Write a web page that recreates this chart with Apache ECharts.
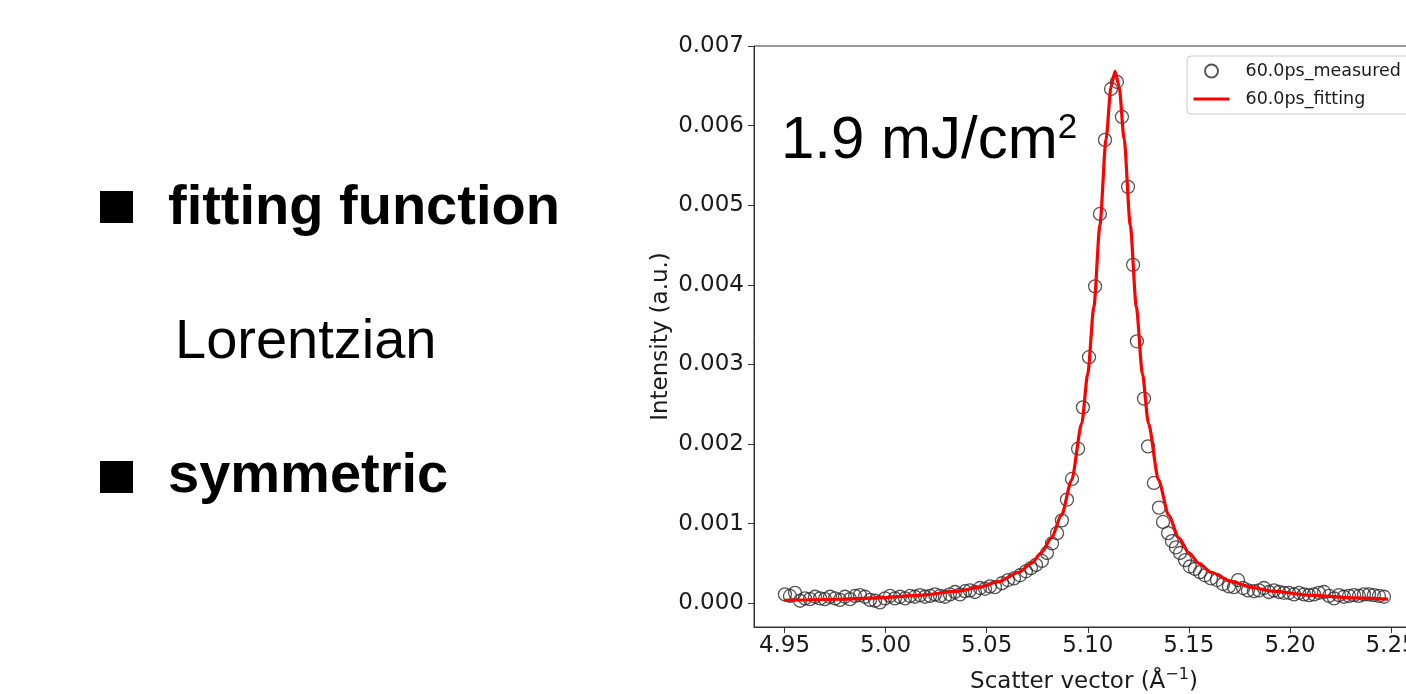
<!DOCTYPE html>
<html>
<head>
<meta charset="utf-8">
<title>60.0ps Lorentzian fit</title>
<script src="https://cdn.jsdelivr.net/npm/echarts@6/dist/echarts.min.js"></script>
<style>
  html, body { margin: 0; padding: 0; background: #fff; }
  #chart { width: 1406px; height: 694px; }
</style>
</head>
<body>
<div id="chart"></div>
<script>
// Measured intensity at 60.0 ps (scatter vector in 1/Å, intensity in a.u.)
const measuredX = [
  4.9502, 4.9527, 4.9552, 4.9577, 4.9601, 4.9626, 4.9651, 4.9676, 4.9700, 4.9725,
  4.9750, 4.9774, 4.9799, 4.9824, 4.9849, 4.9873, 4.9898, 4.9923, 4.9948, 4.9972,
  4.9997, 5.0022, 5.0046, 5.0071, 5.0096, 5.0121, 5.0145, 5.0170, 5.0195, 5.0220,
  5.0244, 5.0269, 5.0294, 5.0318, 5.0343, 5.0368, 5.0393, 5.0417, 5.0442, 5.0467,
  5.0492, 5.0516, 5.0541, 5.0576, 5.0605, 5.0635, 5.0665, 5.0694, 5.0719, 5.0744,
  5.0773, 5.0798, 5.0823, 5.0848, 5.0872, 5.0897, 5.0922, 5.0952, 5.0976, 5.1006,
  5.1036, 5.1060, 5.1085, 5.1115, 5.1144, 5.1169, 5.1199, 5.1224, 5.1243, 5.1278,
  5.1298, 5.1327, 5.1352, 5.1372, 5.1397, 5.1416, 5.1436, 5.1456, 5.1481, 5.1505,
  5.1530, 5.1555, 5.1580, 5.1609, 5.1639, 5.1669, 5.1698, 5.1723, 5.1743, 5.1768,
  5.1792, 5.1822, 5.1847, 5.1871, 5.1896, 5.1921, 5.1946, 5.1970, 5.1995, 5.2020,
  5.2045, 5.2069, 5.2094, 5.2119, 5.2143, 5.2168, 5.2193, 5.2218, 5.2242, 5.2267,
  5.2292, 5.2317, 5.2341, 5.2366, 5.2391, 5.2415, 5.2440, 5.2465
];
const measuredY = [
  0.00011, 0.00009, 0.00013, 0.00003, 0.00006, 0.00005, 0.00008, 0.00006, 0.00005, 0.00008,
  0.00006, 0.00004, 0.00008, 0.00005, 0.00009, 0.00010, 0.00008, 0.00004, 0.00003, 0.00001,
  0.00006, 0.00009, 0.00006, 0.00008, 0.00006, 0.00009, 0.00008, 0.00010, 0.00008, 0.00009,
  0.00011, 0.00009, 0.00008, 0.00011, 0.00014, 0.00011, 0.00015, 0.00016, 0.00014, 0.00019,
  0.00018, 0.00021, 0.00020, 0.00025, 0.00029, 0.00031, 0.00035, 0.00040, 0.00044, 0.00048,
  0.00053, 0.00063, 0.00075, 0.00088, 0.00104, 0.00130, 0.00156, 0.00194, 0.00246, 0.00309,
  0.00398, 0.00489, 0.00582, 0.00646, 0.00655, 0.00611, 0.00523, 0.00425, 0.00329, 0.00257,
  0.00197, 0.00151, 0.00120, 0.00102, 0.00088, 0.00078, 0.00070, 0.00063, 0.00054, 0.00046,
  0.00043, 0.00039, 0.00035, 0.00031, 0.00029, 0.00024, 0.00021, 0.00020, 0.00029, 0.00019,
  0.00016, 0.00015, 0.00016, 0.00019, 0.00014, 0.00016, 0.00014, 0.00013, 0.00013, 0.00011,
  0.00013, 0.00011, 0.00010, 0.00011, 0.00013, 0.00014, 0.00009, 0.00006, 0.00010, 0.00008,
  0.00009, 0.00010, 0.00009, 0.00011, 0.00011, 0.00010, 0.00009, 0.00008
];

// Lorentzian fitting curve, sampled densely around the peak
const fitX = [
  4.950, 4.976, 4.996, 5.016, 5.036, 5.046, 5.056, 5.066, 5.072, 5.077,
  5.082, 5.087, 5.092, 5.097, 5.100, 5.103, 5.106, 5.109, 5.1115, 5.1135,
  5.1155, 5.118, 5.121, 5.124, 5.127, 5.130, 5.135, 5.140, 5.145, 5.150,
  5.155, 5.161, 5.171, 5.181, 5.191, 5.211, 5.231, 5.2485
];
const fitY = [
  0.0000346, 0.0000488, 0.0000666, 0.0000963, 0.000151, 0.000198, 0.000270, 0.000388, 0.000499, 0.000631,
  0.000821, 0.001104, 0.001545, 0.002259, 0.002886, 0.003722, 0.004750, 0.005823, 0.006490, 0.006680,
  0.006490, 0.005823, 0.004750, 0.003722, 0.002886, 0.002259, 0.001545, 0.001104, 0.000821, 0.000631,
  0.000499, 0.000388, 0.000270, 0.000198, 0.000151, 0.0000963, 0.0000666, 0.0000506
];

// Tick positions for both axes
const xTicks = [4.95, 5.00, 5.05, 5.10, 5.15, 5.20, 5.25];
const yTicks = [0.000, 0.001, 0.002, 0.003, 0.004, 0.005, 0.006, 0.007];

const seriesNames = ['60.0ps_measured', '60.0ps_fitting'];

const axisFont = 'DejaVu Sans';
const slideFont = 'Liberation Sans';
const ink = '#1a1a1a';

const chart = echarts.init(document.getElementById('chart'), null, { renderer: 'canvas' });

const measuredData = measuredX.map((x, i) => [x, measuredY[i]]);
const fitData = fitX.map((x, i) => [x, fitY[i]]);

chart.setOption({
  animation: false,
  backgroundColor: '#ffffff',
  grid: {
    left: 754, top: 46, right: -8, bottom: 67,
    outerBoundsMode: 'none',
    containLabel: false,
    show: true, borderColor: '#333', borderWidth: 1, backgroundColor: 'transparent'
  },
  xAxis: {
    type: 'value',
    min: 4.93492, max: 5.26133,
    name: 'Scatter vector (Å{sup|−1})',
    nameLocation: 'middle',
    nameGap: 40,
    nameTextStyle: {
      fontFamily: axisFont, fontSize: 23, lineHeight: 30, color: ink,
      rich: { sup: { fontFamily: axisFont, fontSize: 16, lineHeight: 16, color: ink, verticalAlign: 'top' } }
    },
    axisLine: { show: true, onZero: false, lineStyle: { color: '#333', width: 1 } },
    axisTick: { show: true, length: 6, customValues: xTicks, lineStyle: { color: '#333' } },
    axisLabel: {
      customValues: xTicks, margin: 8, fontFamily: axisFont, fontSize: 23, color: ink,
      formatter: v => v.toFixed(2)
    },
    splitLine: { show: false }
  },
  yAxis: {
    type: 'value',
    min: -0.0003, max: 0.007,
    name: 'Intensity (a.u.)',
    nameLocation: 'middle',
    nameGap: 81,
    nameTextStyle: { fontFamily: axisFont, fontSize: 23, color: ink },
    axisLine: { show: true, onZero: false, lineStyle: { color: '#333', width: 1 } },
    axisTick: { show: true, length: 6, customValues: yTicks, lineStyle: { color: '#333' } },
    axisLabel: {
      customValues: yTicks, margin: 10, fontFamily: axisFont, fontSize: 23, color: ink,
      formatter: v => v.toFixed(3)
    },
    splitLine: { show: false }
  },
  legend: {
    orient: 'vertical',
    left: 1187, top: 56,
    padding: [6, 30, 6, 5],
    itemGap: 10,
    itemWidth: 36, itemHeight: 13,
    borderColor: '#cccccc', borderWidth: 1, borderRadius: 4,
    backgroundColor: 'rgba(255,255,255,0.8)',
    textStyle: { fontFamily: axisFont, fontSize: 17.5, color: ink, padding: [0, 0, 0, 11] },
    data: [
      { name: seriesNames[0] },
      { name: seriesNames[1], itemStyle: { opacity: 0 }, lineStyle: { width: 3, color: '#ff0000' } }
    ]
  },
  series: [
    {
      name: seriesNames[0],
      type: 'scatter',
      data: measuredData,
      symbol: 'circle',
      symbolSize: 13,
      itemStyle: { color: 'rgba(255,255,255,0)', borderColor: '#2a2a2a', borderWidth: 1.3 },
      z: 2
    },
    {
      name: seriesNames[1],
      type: 'line',
      data: fitData,
      symbol: 'none',
      smooth: 0.25,
      smoothMonotone: 'x',
      lineStyle: { color: '#ff0000', width: 3.2 },
      itemStyle: { color: '#ff0000' },
      z: 3
    }
  ],
  graphic: [
    // fluence annotation inside the plot
    {
      type: 'text', left: 781, top: 111, z: 10,
      style: {
        text: '{a|1.9 mJ/cm}{b|2}',
        rich: {
          a: { fontFamily: slideFont, fontSize: 60, lineHeight: 60, fill: '#000' },
          b: { fontFamily: slideFont, fontSize: 35, lineHeight: 35, fill: '#000', verticalAlign: 'top' }
        }
      }
    },
    // slide notes on the left
    { type: 'rect', shape: { x: 100, y: 191, width: 33, height: 32 }, style: { fill: '#000' } },
    {
      type: 'text', left: 168, top: 181,
      style: { text: 'fitting function', fontFamily: slideFont, fontWeight: 'bold', fontSize: 56, lineHeight: 56, fill: '#000' }
    },
    {
      type: 'text', left: 175, top: 315,
      style: { text: 'Lorentzian', fontFamily: slideFont, fontSize: 56, lineHeight: 56, fill: '#000' }
    },
    { type: 'rect', shape: { x: 100, y: 461, width: 33, height: 32 }, style: { fill: '#000' } },
    {
      type: 'text', left: 168, top: 449,
      style: { text: 'symmetric', fontFamily: slideFont, fontWeight: 'bold', fontSize: 56, lineHeight: 56, fill: '#000' }
    }
  ]
});
</script>
</body>
</html>
